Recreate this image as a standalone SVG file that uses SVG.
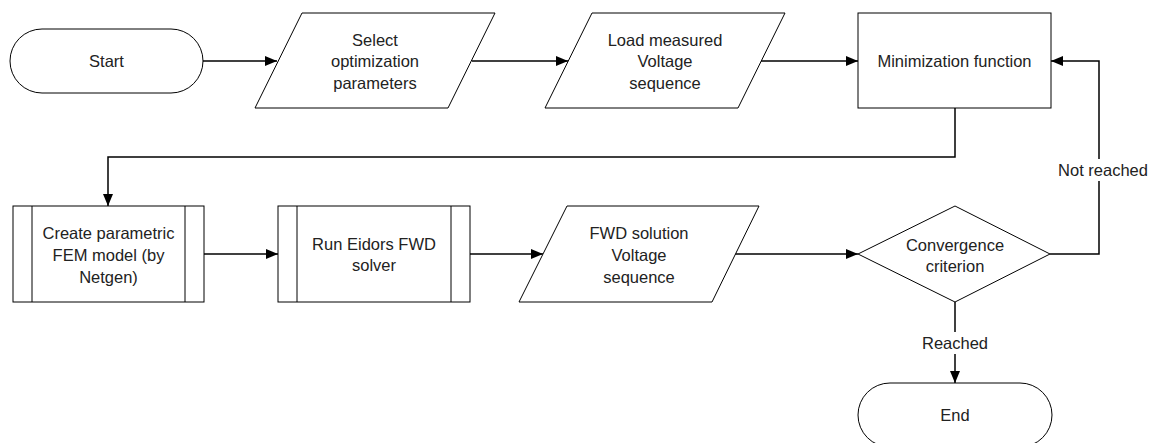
<svg xmlns="http://www.w3.org/2000/svg" width="1153" height="443" viewBox="0 0 1153 443">
<defs>
<marker id="arr" markerWidth="12" markerHeight="10" refX="12" refY="5" orient="auto" markerUnits="userSpaceOnUse">
<path d="M0,0 L12,5 L0,10 Z" fill="#000"/>
</marker>
<style>
.s{fill:#fff;stroke:#000;stroke-width:1}
.t{font-family:"Liberation Sans",Arial,sans-serif;font-size:16.5px;fill:#222;text-anchor:middle}
.c{fill:none;stroke:#000;stroke-width:1.5;marker-end:url(#arr)}
.lb{fill:#fff}
</style>
</defs>
<rect width="1153" height="443" fill="#fff"/>
<g id="connectors">
<path class="c" d="M203,61 H277"/>
<path class="c" d="M472,61 H568"/>
<path class="c" d="M761,61 H858"/>
<path class="c" d="M955,108 V157 H108 V206"/>
<path class="c" d="M204,254 H278"/>
<path class="c" d="M470,254 H543"/>
<path class="c" d="M735,254 H858"/>
<path class="c" d="M1050,254 H1099 V61 H1051"/>
<path class="c" d="M955,302 V383"/>
<rect class="lb" x="1055" y="159" width="96" height="22"/>
<text class="t" x="1103" y="176">Not reached</text>
<rect class="lb" x="920" y="332" width="70" height="22"/>
<text class="t" x="955" y="349">Reached</text>
</g>
<g id="start">
<rect class="s" x="10" y="29" width="193" height="64" rx="32" ry="32"/>
<text class="t" x="106.5" y="67">Start</text>
</g>
<g id="select">
<polygon class="s" points="302,13 495,13 448,108 255,108"/>
<text class="t" x="375" y="46">Select</text>
<text class="t" x="375" y="67">optimization</text>
<text class="t" x="375" y="89">parameters</text>
</g>
<g id="load">
<polygon class="s" points="592,13 785,13 738,108 545,108"/>
<text class="t" x="665" y="46">Load measured</text>
<text class="t" x="665" y="67">Voltage</text>
<text class="t" x="665" y="89">sequence</text>
</g>
<g id="minimization">
<rect class="s" x="858" y="13" width="193" height="95"/>
<text class="t" x="954.5" y="67">Minimization function</text>
</g>
<g id="create">
<rect class="s" x="13" y="206" width="191" height="96"/>
<line class="s" x1="32" y1="206" x2="32" y2="302"/>
<line class="s" x1="185" y1="206" x2="185" y2="302"/>
<text class="t" x="108.5" y="239">Create parametric</text>
<text class="t" x="108.5" y="261">FEM model (by</text>
<text class="t" x="108.5" y="283">Netgen)</text>
</g>
<g id="run">
<rect class="s" x="278" y="206" width="192" height="96"/>
<line class="s" x1="297" y1="206" x2="297" y2="302"/>
<line class="s" x1="451" y1="206" x2="451" y2="302"/>
<text class="t" x="374" y="250">Run Eidors FWD</text>
<text class="t" x="374" y="271">solver</text>
</g>
<g id="fwd">
<polygon class="s" points="567,206 759,206 712,302 519,302"/>
<text class="t" x="639" y="239">FWD solution</text>
<text class="t" x="639" y="261">Voltage</text>
<text class="t" x="639" y="283">sequence</text>
</g>
<g id="convergence">
<polygon class="s" points="955,206 1050,254 955,302 858,254"/>
<text class="t" x="955" y="251">Convergence</text>
<text class="t" x="955" y="272">criterion</text>
</g>
<g id="end">
<rect class="s" x="858" y="383" width="194" height="64" rx="32" ry="32"/>
<text class="t" x="955" y="421">End</text>
</g>
</svg>
